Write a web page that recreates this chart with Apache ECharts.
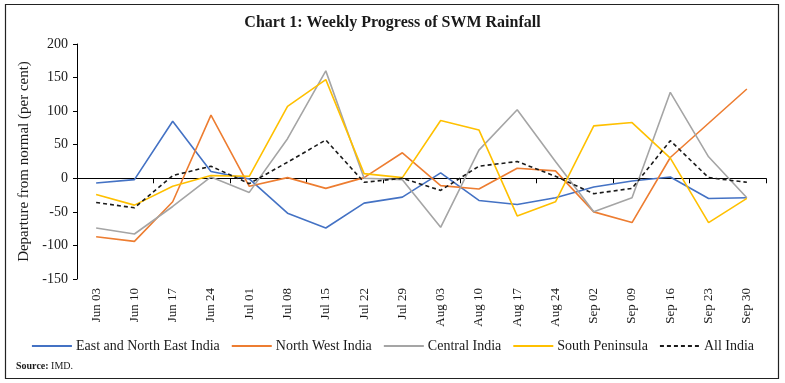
<!DOCTYPE html>
<html>
<head>
<meta charset="utf-8">
<script src="https://cdn.jsdelivr.net/npm/echarts@6/dist/echarts.min.js"></script>
<style>html,body{margin:0;padding:0;background:#fff}#c{width:785px;height:383px}</style>
</head>
<body>
<div id="c"></div>
<script>
const categories = ['Jun 03','Jun 10','Jun 17','Jun 24','Jul 01','Jul 08','Jul 15','Jul 22','Jul 29','Aug 03','Aug 10','Aug 17','Aug 24','Sep 02','Sep 09','Sep 16','Sep 23','Sep 30'];
const eastNorthEast = [-7, -2, 85, 10, -1, -52, -74, -37, -28, 8, -33, -39, -29, -13, -4, 2, -30, -29];
const northWest = [-87, -94, -35, 94, -12, 1, -15, 1, 38, -11, -16, 15, 11, -50, -66, 31, 82, 133];
const central = [-74, -83, -42, 2, -21, 59, 160, 0, -2, -73, 42, 102, 25, -50, -29, 128, 32, -29];
const southPeninsula = [-24, -40, -12, 4, 3, 107, 147, 7, 1, 86, 72, -56, -35, 78, 83, 30, -66, -30];
const allIndia = [-36, -44, 4, 18, -8, 24, 57, -6, 0, -18, 18, 25, 3, -23, -15, 56, 1, -6];
const yTicks = {min: -150, max: 200, interval: 50};

const FONT = '"Liberation Serif", "DejaVu Serif", serif';
const chart = echarts.init(document.getElementById('c'), null, {renderer: 'canvas'});

function line(name, data, color, dashed) {
  return {
    name, type: 'line', data, xAxisIndex: 0, yAxisIndex: 0,
    symbol: 'none', smooth: false,
    lineStyle: {color, width: 1.6, type: dashed ? [4, 3] : 'solid'},
    itemStyle: {color},
    emphasis: {disabled: true}
  };
}

chart.setOption({
  animation: false,
  backgroundColor: '#fff',
  title: {
    text: 'Chart 1: Weekly Progress of SWM Rainfall',
    left: 'center', top: 10,
    textStyle: {fontFamily: FONT, fontSize: 16, fontWeight: 'bold', color: '#1a1a1a'}
  },
  grid: {left: 77, right: 19, top: 44, bottom: 104, containLabel: false},
  legend: {
    bottom: 25, left: 'center',
    itemWidth: 40, itemHeight: 10, itemGap: 11,
    itemStyle: {opacity: 0},
    textStyle: {fontFamily: FONT, fontSize: 14, color: '#1a1a1a', padding: [0, 0, 0, -1]},
    data: ['East and North East India', 'North West India', 'Central India', 'South Peninsula', 'All India']
  },
  xAxis: [
    {
      type: 'category', data: categories, boundaryGap: true, position: 'bottom',
      axisLine: {show: false, onZero: false},
      axisTick: {show: false},
      axisLabel: {rotate: 90, margin: 9, fontFamily: FONT, fontSize: 13, color: '#1a1a1a', interval: 0}
    },
    {
      type: 'category', data: categories, boundaryGap: true, position: 'bottom',
      axisLine: {show: true, onZero: true, lineStyle: {color: '#000', width: 1}},
      axisTick: {show: true, length: 5, lineStyle: {color: '#000'}},
      axisLabel: {show: false}
    }
  ],
  yAxis: {
    type: 'value', min: yTicks.min, max: yTicks.max, interval: yTicks.interval,
    name: 'Departure from normal (per cent)', nameLocation: 'middle', nameGap: 44,
    nameTextStyle: {fontFamily: FONT, fontSize: 15, color: '#1a1a1a'},
    axisLine: {show: true, lineStyle: {color: '#000', width: 1}},
    axisTick: {show: true, length: 4, lineStyle: {color: '#000'}},
    splitLine: {show: false},
    axisLabel: {margin: 9, fontFamily: FONT, fontSize: 14, color: '#1a1a1a'}
  },
  series: [
    line('East and North East India', eastNorthEast, '#4472C4'),
    line('North West India', northWest, '#ED7D31'),
    line('Central India', central, '#A5A5A5'),
    line('South Peninsula', southPeninsula, '#FFC000'),
    line('All India', allIndia, '#1a1a1a', true)
  ],
  graphic: [
    {type: 'rect', shape: {x: 5.5, y: 4.5, width: 773, height: 374}, style: {fill: 'none', stroke: '#222', lineWidth: 1.2}, silent: true},
    {type: 'text', left: 16, top: 361, style: {text: '{b|Source:} IMD.', rich: {b: {fontWeight: 'bold', fontFamily: FONT, fontSize: 10, fill: '#1a1a1a'}}, fontFamily: FONT, fontSize: 10, fill: '#1a1a1a'}}
  ]
});
</script>
</body>
</html>
